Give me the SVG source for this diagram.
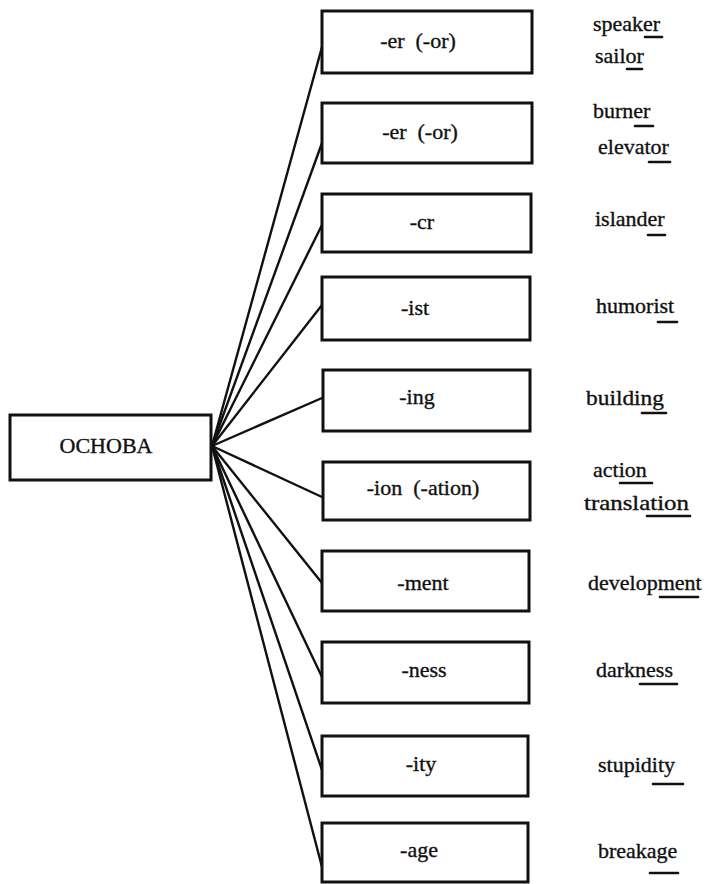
<svg xmlns="http://www.w3.org/2000/svg" width="707" height="884" viewBox="0 0 707 884">
<style>
.box{fill:#fff;stroke:#111;stroke-width:3}
.t{font-family:"Liberation Serif","Times New Roman",serif;font-size:22px;fill:#111;stroke:#111;stroke-width:0.35}
.c{text-anchor:middle}
.con{stroke:#111;stroke-width:2.4;fill:none;stroke-linecap:round}
.ul{stroke:#111;stroke-width:2.6;fill:none;stroke-linecap:round}
</style>
<rect width="707" height="884" fill="#fff"/>
<g id="connectors">
<line class="con" x1="212" y1="446" x2="322" y2="47"/>
<line class="con" x1="212" y1="446" x2="322" y2="143"/>
<line class="con" x1="212" y1="446" x2="322" y2="225"/>
<line class="con" x1="212" y1="446" x2="322" y2="305"/>
<line class="con" x1="212" y1="446" x2="322" y2="398"/>
<line class="con" x1="212" y1="446" x2="322" y2="497"/>
<line class="con" x1="212" y1="446" x2="322" y2="583"/>
<line class="con" x1="212" y1="446" x2="322" y2="677"/>
<line class="con" x1="212" y1="446" x2="322" y2="770"/>
<line class="con" x1="212" y1="446" x2="322" y2="867"/>
</g>
<g id="osnova">
<rect class="box" x="10" y="415" width="201" height="65"/>
<text class="t c" x="106" y="453">OCHOBA</text>
</g>
<g id="n1">
<rect class="box" x="322" y="11" width="210" height="62"/>
<text class="t c" x="418" y="48" xml:space="preserve">-er  (-or)</text>
<text class="t" x="593" y="31">speaker</text>
<text class="t" x="595" y="63">sailor</text>
<path class="ul" d="M645 37 L662 37"/>
<path class="ul" d="M627 69 L642 69"/>
</g>
<g id="n2">
<rect class="box" x="322" y="103" width="210" height="60"/>
<text class="t c" x="420" y="139" xml:space="preserve">-er  (-or)</text>
<text class="t" x="593" y="118">burner</text>
<text class="t" x="598" y="154">elevator</text>
<path class="ul" d="M635 126 L653 126"/>
<path class="ul" d="M649 162 L670 162"/>
</g>
<g id="n3">
<rect class="box" x="322" y="194" width="209" height="58"/>
<text class="t c" x="422" y="229">-cr</text>
<text class="t" x="595" y="226">islander</text>
<path class="ul" d="M648 235 L665 235"/>
</g>
<g id="n4">
<rect class="box" x="322" y="277" width="208" height="63"/>
<text class="t c" x="415" y="315">-ist</text>
<text class="t" x="596" y="313">humorist</text>
<path class="ul" d="M658 322 L677 322"/>
</g>
<g id="n5">
<rect class="box" x="323" y="370" width="207" height="61"/>
<text class="t c" x="417" y="404">-ing</text>
<text class="t" x="586" y="405" textLength="78" lengthAdjust="spacingAndGlyphs">building</text>
<path class="ul" d="M642 413 L666 413"/>
</g>
<g id="n6">
<rect class="box" x="323" y="462" width="207" height="58"/>
<text class="t c" x="423" y="495" xml:space="preserve">-ion  (-ation)</text>
<text class="t" x="593" y="477">action</text>
<text class="t" x="584" y="510" textLength="105" lengthAdjust="spacingAndGlyphs">translation</text>
<path class="ul" d="M647 516 L690 516"/>
<path class="ul" d="M620 483 L652 483"/>
</g>
<g id="n7">
<rect class="box" x="322" y="551" width="207" height="60"/>
<text class="t c" x="423" y="590">-ment</text>
<text class="t" x="588" y="590">development</text>
<path class="ul" d="M660 597 L698 597"/>
</g>
<g id="n8">
<rect class="box" x="322" y="642" width="207" height="61"/>
<text class="t c" x="424" y="677">-ness</text>
<text class="t" x="596" y="677">darkness</text>
<path class="ul" d="M640 684 L677 684"/>
</g>
<g id="n9">
<rect class="box" x="322" y="736" width="206" height="60"/>
<text class="t c" x="421" y="771">-ity</text>
<text class="t" x="598" y="772">stupidity</text>
<path class="ul" d="M653 784 L683 784"/>
</g>
<g id="n10">
<rect class="box" x="322" y="823" width="206" height="59"/>
<text class="t c" x="419" y="857">-age</text>
<text class="t" x="598" y="858">breakage</text>
<path class="ul" d="M650 873 L678 873"/>
</g>
</svg>
